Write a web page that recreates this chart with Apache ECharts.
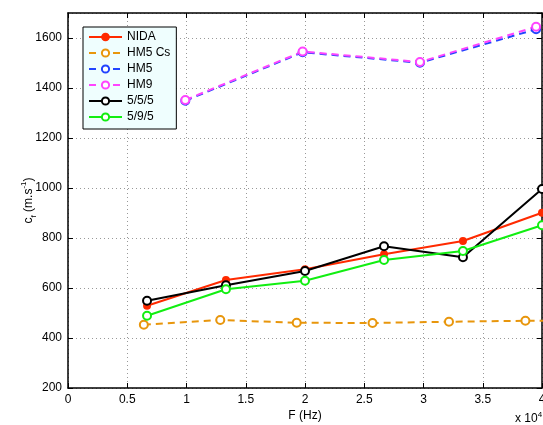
<!DOCTYPE html>
<html>
<head>
<meta charset="utf-8">
<script src="https://cdn.jsdelivr.net/npm/echarts@6/dist/echarts.min.js"></script>
<style>html,body{margin:0;padding:0;background:#fff}#c{width:543px;height:425px}</style>
</head>
<body>
<div id="c"></div>
<script>
// x values in units of 10^4 Hz
const xTicks = [0, 0.5, 1, 1.5, 2, 2.5, 3, 3.5, 4];
const yTicks = [200, 400, 600, 800, 1000, 1200, 1400, 1600];

const nidaX = [0.667, 1.333, 2.0, 2.667, 3.333, 4.0];
const nidaY = [529, 632, 675, 735, 788, 901];

const hm5csX = [0.64, 1.285, 1.93, 2.57, 3.215, 3.86, 4.5];
const hm5csY = [453, 472, 461, 460, 465, 469, 470];

const hm5X = [0.99, 1.98, 2.97, 3.95];
const hm5Y = [1349, 1543, 1501, 1635];

const hm9X = [0.99, 1.98, 2.97, 3.95];
const hm9Y = [1352, 1546, 1504, 1645];

const s555X = [0.667, 1.333, 2.0, 2.667, 3.333, 4.0];
const s555Y = [549, 611, 668, 767, 723, 996];

const s595X = [0.667, 1.333, 2.0, 2.667, 3.333, 4.0];
const s595Y = [489, 595, 629, 712, 748, 851];

const zip = (xs, ys) => xs.map((x, i) => [x, ys[i]]);
const FONT = 'Liberation Sans, Arial, Helvetica, sans-serif';

function mk(name, xs, ys, color, dashed, symbol, size) {
  return {
    name, type: 'line', data: zip(xs, ys), xAxisIndex: 0, yAxisIndex: 0,
    symbol, symbolSize: size, showSymbol: true, clip: true,
    lineStyle: { color, width: 2, type: dashed ? [7, 5] : 'solid' },
    itemStyle: { color, borderColor: color, borderWidth: 2 },
    animation: false
  };
}

const chart = echarts.init(document.getElementById('c'), null, { renderer: 'canvas' });
const gridLine = { show: true, lineStyle: { color: '#999', width: 1, type: [1, 3] } };
chart.setOption({
  animation: false,
  textStyle: { fontFamily: FONT },
  grid: { left: 68, right: 1, top: 13, bottom: 37, containLabel: false, outerBoundsMode: 'none' },
  xAxis: [{
    type: 'value', min: 0, max: 4, interval: 0.5, position: 'bottom',
    axisLine: { show: true, onZero: false, lineStyle: { color: '#000', width: 1.5 } },
    axisTick: { show: true, inside: true, length: 5, lineStyle: { color: '#000' } },
    axisLabel: { color: '#000', fontSize: 12, fontFamily: FONT, margin: 6,
      formatter: v => String(+(+v).toFixed(1)) },
    splitLine: gridLine,
    name: 'F (Hz)', nameLocation: 'middle', nameGap: 22, nameMoveOverlap: false,
    nameTextStyle: { color: '#000', fontSize: 12, fontFamily: FONT }
  }, {
    type: 'value', min: 0, max: 4, interval: 0.5, position: 'top',
    axisLine: { show: true, onZero: false, lineStyle: { color: '#000', width: 1.5 } },
    axisTick: { show: true, inside: true, length: 5, lineStyle: { color: '#000' } },
    axisLabel: { show: false }, splitLine: { show: false }
  }],
  yAxis: [{
    type: 'value', min: 200, max: 1700, interval: 200, position: 'left',
    axisLine: { show: true, onZero: false, lineStyle: { color: '#000', width: 1.5 } },
    axisTick: { show: true, inside: true, length: 5, lineStyle: { color: '#000' } },
    axisLabel: { color: '#000', fontSize: 12, fontFamily: FONT, margin: 6, showMaxLabel: false,
      formatter: v => String(Math.round(v)) },
    splitLine: gridLine,
    name: '{a|c}{s|f}{a| (m.s}{p|-1}{a|)}', nameLocation: 'middle', nameGap: 30, nameRotate: 90,
    nameMoveOverlap: false,
    nameTextStyle: { color: '#000', fontSize: 12, fontFamily: FONT,
      rich: {
        a: { fontSize: 12, fontFamily: FONT, color: '#000', lineHeight: 18 },
        s: { fontSize: 8, fontFamily: FONT, color: '#000', verticalAlign: 'bottom', lineHeight: 10 },
        p: { fontSize: 8, fontFamily: FONT, color: '#000', verticalAlign: 'top', lineHeight: 10 }
      } }
  }, {
    type: 'value', min: 200, max: 1700, interval: 200, position: 'right',
    axisLine: { show: true, onZero: false, lineStyle: { color: '#000', width: 1.5 } },
    axisTick: { show: true, inside: true, length: 5, lineStyle: { color: '#000' } },
    axisLabel: { show: false }, splitLine: { show: false }
  }],
  legend: {
    orient: 'vertical', left: 83, top: 27,
    padding: [3, 6, 5, 5], itemWidth: 33, itemHeight: 9, itemGap: 2,
    backgroundColor: '#effefe', borderColor: '#000', borderWidth: 1,
    itemStyle: { borderWidth: 1.5 },
    textStyle: { color: '#000', fontSize: 12, fontFamily: FONT, lineHeight: 14 },
    data: ['NIDA', 'HM5 Cs', 'HM5', 'HM9', '5/5/5', '5/9/5']
  },
  graphic: [{
    type: 'text', left: 515, top: 411, silent: true,
    style: { text: '{a|x 10}{p|4}', fill: '#000', font: '12px ' + FONT,
      rich: { a: { fontSize: 12, fontFamily: FONT, fill: '#000', lineHeight: 16 },
              p: { fontSize: 8, fontFamily: FONT, fill: '#000', verticalAlign: 'top', lineHeight: 10 } } }
  }],
  series: [
    mk('NIDA', nidaX, nidaY, '#ff2a00', false, 'circle', 6),
    mk('HM5 Cs', hm5csX, hm5csY, '#e8960c', true, 'emptyCircle', 8),
    mk('HM5', hm5X, hm5Y, '#2244ff', true, 'emptyCircle', 8),
    mk('HM9', hm9X, hm9Y, '#ff44ff', true, 'emptyCircle', 8),
    mk('5/5/5', s555X, s555Y, '#000000', false, 'emptyCircle', 8),
    mk('5/9/5', s595X, s595Y, '#11ee11', false, 'emptyCircle', 8)
  ]
});
</script>
</body>
</html>
